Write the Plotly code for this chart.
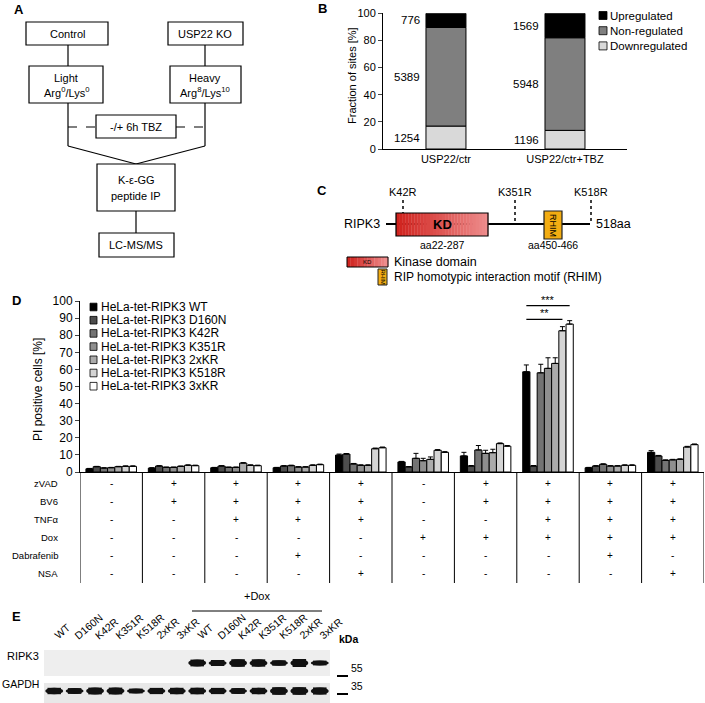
import plotly.graph_objects as go

W, H = 705, 703
FONT = "Arial, Liberation Sans, sans-serif"

def px(x):
    return x / W

def py(y):
    return 1 - y / H

# ---------------- DATA ----------------
# Panel B
b_categories = ["USP22/ctr", "USP22/ctr+TBZ"]
b_series = ["Upregulated", "Non-regulated", "Downregulated"]
b_up = [776, 1569]
b_non = [5389, 5948]
b_down = [1254, 1196]
b_colors = ["#000000", "#7f7f7f", "#d9d9d9"]

# Panel D
d_series = ["HeLa-tet-RIPK3 WT", "HeLa-tet-RIPK3 D160N", "HeLa-tet-RIPK3 K42R",
            "HeLa-tet-RIPK3 K351R", "HeLa-tet-RIPK3 2xKR", "HeLa-tet-RIPK3 K518R",
            "HeLa-tet-RIPK3 3xKR"]
d_colors = ["#000000", "#4d4d4d", "#737373", "#8f8f8f", "#ababab", "#d4d4d4", "#ffffff"]
wt =    [1.9, 2.3, 2.5, 2.5, 9.9, 5.9, 9.4, 58.6, 2.5, 11.5]
d160n = [3.1, 3.5, 3.5, 3.5, 10.5, 3.0, 3.5, 3.5, 3.5, 9.4]
k42r =  [2.3, 2.7, 2.7, 3.7, 4.7, 8.0, 12.9, 58.0, 4.5, 6.8]
k351r = [2.5, 2.7, 2.7, 2.9, 3.9, 6.6, 10.9, 60.6, 3.5, 7.1]
kr2 =   [3.1, 3.3, 5.2, 2.9, 3.9, 7.4, 11.3, 63.5, 3.5, 7.4]
k518r = [3.3, 3.9, 3.9, 3.9, 13.6, 12.7, 16.6, 82.6, 3.9, 14.6]
kr3 =   [3.3, 3.7, 3.7, 4.3, 14.2, 11.5, 15.1, 86.5, 3.9, 16.0]
wt_err =    [0.2, 0.2, 0.2, 0.2, 0.6, 0.3, 2.1, 4.0, 0.2, 1.0]
d160n_err = [0.2, 0.2, 0.2, 0.2, 0.3, 0.2, 0.3, 0.3, 0.2, 0.3]
k42r_err =  [0.2, 0.2, 0.2, 0.3, 0.3, 2.9, 2.6, 5.0, 0.3, 0.3]
k351r_err = [0.2, 0.2, 0.2, 0.2, 0.3, 1.4, 1.8, 6.2, 0.2, 0.3]
kr2_err =   [0.2, 0.2, 0.3, 0.2, 0.3, 1.4, 2.0, 3.3, 0.2, 0.3]
k518r_err = [0.3, 0.3, 0.3, 0.3, 0.4, 0.4, 0.4, 2.4, 0.3, 0.4]
kr3_err =   [0.3, 0.3, 0.3, 0.3, 0.4, 0.4, 0.4, 2.0, 0.3, 0.4]
d_values = [wt, d160n, k42r, k351r, kr2, k518r, kr3]
d_errors = [wt_err, d160n_err, k42r_err, k351r_err, kr2_err, k518r_err, kr3_err]

# treatment table
t_rows = ["zVAD", "BV6", "TNF\u03b1", "Dox", "Dabrafenib", "NSA"]
t_zvad = ["-", "+", "+", "+", "+", "-", "+", "+", "+", "+"]
t_bv6 =  ["-", "+", "+", "+", "+", "-", "+", "+", "+", "+"]
t_tnf =  ["-", "-", "+", "+", "+", "-", "-", "+", "+", "+"]
t_dox =  ["-", "-", "-", "-", "-", "+", "+", "+", "+", "+"]
t_dab =  ["-", "-", "-", "+", "-", "-", "-", "-", "+", "-"]
t_nsa =  ["-", "-", "-", "-", "+", "-", "-", "-", "-", "+"]
t_table = [t_zvad, t_bv6, t_tnf, t_dox, t_dab, t_nsa]

# significance: (group, series a, series b, label, height)
sig = [(7, 0, 6, "***", 97.3), (7, 0, 5, "**", 89.3)]

# Panel E blot
e_lanes = ["WT", "D160N", "K42R", "K351R", "K518R", "2xKR", "3xKR",
           "WT", "D160N", "K42R", "K351R", "K518R", "2xKR", "3xKR"]
e_ripk3 = [0, 0, 0, 0, 0, 0, 0, 0.85, 0.75, 0.95, 0.92, 0.68, 1.0, 0.6]
e_gapdh = [0.8, 0.72, 0.85, 0.85, 0.6, 0.78, 0.8, 0.82, 0.78, 0.72, 0.8, 0.95, 0.95, 0.9]

fig = go.Figure()

# ---------------- PANEL B ----------------
totals = [u + n + d for u, n, d in zip(b_up, b_non, b_down)]
pct_down = [100 * d / t for d, t in zip(b_down, totals)]
pct_non = [100 * n / t for n, t in zip(b_non, totals)]
pct_up = [100 * u / t for u, t in zip(b_up, totals)]
b_bw = 0.336
stack = [(b_down, pct_down, [0, 0], b_colors[2]),
         (b_non, pct_non, pct_down, b_colors[1]),
         (b_up, pct_up, [a + b for a, b in zip(pct_down, pct_non)], b_colors[0])]
annotations = []
for counts, vals, base, col in stack:
    fig.add_trace(go.Bar(x=[0, 1], y=vals, base=base, width=b_bw, offset=-b_bw / 2,
                         offsetgroup="b", marker=dict(color=col, line=dict(color="black", width=1)),
                         xaxis="x", yaxis="y", showlegend=False))
    for i in range(2):
        annotations.append(dict(x=i - b_bw / 2 - 0.03, y=base[i] + vals[i] / 2, xref="x", yref="y",
                                text=str(counts[i]), showarrow=False, xanchor="right",
                                font=dict(size=11.5, color="black")))

# ---------------- PANEL D ----------------
groups = list(range(10))
for j in range(7):
    fig.add_trace(go.Bar(x=groups, y=d_values[j], name=d_series[j],
                         marker=dict(color=d_colors[j], line=dict(color="black", width=1)),
                         error_y=dict(type="data", array=d_errors[j], arrayminus=[0] * 10,
                                      symmetric=False, color="black", thickness=1, width=2.5),
                         xaxis="x2", yaxis="y2", showlegend=False))

bargap = 0.19
bw = (1 - bargap) / 7

def bar_center(g, j):
    return g - (1 - bargap) / 2 + (j + 0.5) * bw

shapes = []
for g, a, b, lab, hgt in sig:
    x0, x1 = bar_center(g, a), bar_center(g, b)
    shapes.append(dict(type="line", xref="x2", yref="y2", x0=x0, x1=x1, y0=hgt, y1=hgt,
                       line=dict(color="black", width=1.2)))
    annotations.append(dict(x=(x0 + x1) / 2, y=hgt, xref="x2", yref="y2", text=lab,
                            showarrow=False, yanchor="bottom", font=dict(size=11, color="black"),
                            yshift=-2))

# D legend (manual, compact)
for j in range(7):
    yc = 307 + 13.2 * j
    shapes.append(dict(type="rect", xref="paper", yref="paper", x0=px(90), x1=px(97),
                       y0=py(yc + 3.8), y1=py(yc - 3.8), fillcolor=d_colors[j],
                       line=dict(color="black", width=0.8)))
    annotations.append(dict(x=px(99), y=py(yc), xref="paper", yref="paper", text=d_series[j],
                            showarrow=False, xanchor="left", yanchor="middle",
                            font=dict(size=12, color="black")))

# B legend
b_leg_order = [(b_series[0], b_colors[0]), (b_series[1], b_colors[1]), (b_series[2], b_colors[2])]
for k, (name, col) in enumerate(b_leg_order):
    yc = 15.5 + 15.2 * k
    shapes.append(dict(type="rect", xref="paper", yref="paper", x0=px(599), x1=px(607),
                       y0=py(yc + 4), y1=py(yc - 4), fillcolor=col,
                       line=dict(color="black", width=0.8)))
    annotations.append(dict(x=px(608), y=py(yc), xref="paper", yref="paper", text=name,
                            showarrow=False, xanchor="left", yanchor="middle",
                            font=dict(size=11.5, color="black")))

# table below D
tab_rows_y = [483, 501, 519, 537, 555, 573]
for r, (lab, vals) in enumerate(zip(t_rows, t_table)):
    annotations.append(dict(x=px(60), y=py(tab_rows_y[r]), xref="paper", yref="paper", text=lab,
                            showarrow=False, xanchor="right", yanchor="middle",
                            font=dict(size=9.5, color="black")))
    for g in groups:
        annotations.append(dict(x=g, y=py(tab_rows_y[r]), xref="x2", yref="paper", text=vals[g],
                                showarrow=False, xanchor="center", yanchor="middle",
                                font=dict(size=10, color="black")))
for k in range(11):
    shapes.append(dict(type="line", xref="x2", yref="paper", x0=k - 0.5, x1=k - 0.5,
                       y0=py(472), y1=py(583), line=dict(color="black", width=1)))

# ---------------- PANEL E ----------------
shapes.append(dict(type="rect", xref="paper", yref="paper", x0=px(44), x1=px(330),
                   y0=py(676), y1=py(650), fillcolor="#eeeeee", line=dict(width=0), layer="below"))
shapes.append(dict(type="rect", xref="paper", yref="paper", x0=px(44), x1=px(330),
                   y0=py(703), y1=py(683), fillcolor="#e8e8e8", line=dict(width=0), layer="below"))

def band(i, yc, inten, maxh):
    if inten <= 0:
        return
    h = maxh * inten
    shapes.append(dict(type="rect", xref="x3", yref="y3", x0=i - 0.33, x1=i + 0.33,
                       y0=yc - h / 2, y1=yc + h / 2, fillcolor="#111111", line=dict(width=0)))
    shapes.append(dict(type="circle", xref="x3", yref="y3", x0=i - 0.44, x1=i + 0.44,
                       y0=yc - h / 2, y1=yc + h / 2, fillcolor="#111111", line=dict(width=0)))

for i in range(14):
    band(i, 40, e_ripk3[i], 8)
    band(i, 12, e_gapdh[i], 8)
    annotations.append(dict(x=i - 0.25, y=py(644), xref="x3", yref="paper", text=e_lanes[i],
                            showarrow=False, textangle=-40, xanchor="left", yanchor="bottom",
                            font=dict(size=10.5, color="black")))

shapes.append(dict(type="line", xref="paper", yref="paper", x0=px(192), x1=px(322),
                   y0=py(611), y1=py(611), line=dict(color="black", width=1)))
annotations.append(dict(x=px(257), y=py(604), xref="paper", yref="paper", text="+Dox",
                        showarrow=False, font=dict(size=11, color="black")))
annotations += [
    dict(x=px(41), y=py(664), xref="paper", yref="paper", text="RIPK3", showarrow=False,
         xanchor="right", font=dict(size=11, color="black")),
    dict(x=px(41), y=py(692), xref="paper", yref="paper", text="GAPDH", showarrow=False,
         xanchor="right", font=dict(size=10.5, color="black")),
    dict(x=px(337), y=py(647), xref="paper", yref="paper", text="<b>kDa</b>", showarrow=False,
         xanchor="left", font=dict(size=10.5, color="black")),
    dict(x=px(349), y=py(676), xref="paper", yref="paper", text="55", showarrow=False,
         xanchor="left", font=dict(size=10.5, color="black")),
    dict(x=px(349), y=py(694), xref="paper", yref="paper", text="35", showarrow=False,
         xanchor="left", font=dict(size=10.5, color="black")),
]
for yy in (676, 694):
    shapes.append(dict(type="line", xref="paper", yref="paper", x0=px(337), x1=px(348),
                       y0=py(yy), y1=py(yy), line=dict(color="black", width=2)))

# ---------------- PANEL A ----------------
def box(x0, y0, x1, y1):
    shapes.append(dict(type="rect", xref="paper", yref="paper", x0=px(x0), x1=px(x1),
                       y0=py(y1), y1=py(y0), line=dict(color="black", width=1.2), fillcolor="white"))

def seg(x0, y0, x1, y1, dash="solid", w=1.2):
    shapes.append(dict(type="line", xref="paper", yref="paper", x0=px(x0), x1=px(x1),
                       y0=py(y0), y1=py(y1), line=dict(color="black", width=w, dash=dash)))

def txt(x, y, t, size=11, xa="center", bold=False, angle=0):
    annotations.append(dict(x=px(x), y=py(y), xref="paper", yref="paper",
                            text=("<b>%s</b>" % t) if bold else t, showarrow=False,
                            xanchor=xa, yanchor="middle", textangle=angle,
                            font=dict(size=size, color="black")))

seg(68, 45, 68, 66); seg(205, 45, 205, 66)
seg(68, 103, 68, 146); seg(205, 103, 205, 146)
seg(68, 146, 136, 164); seg(205, 146, 136, 164)
seg(68, 127, 96, 127, dash="dash"); seg(176, 127, 205, 127, dash="dash")
seg(136, 211, 136, 233)
box(26, 22, 108, 45); box(168, 22, 243, 45)
box(29, 66, 103, 103); box(170, 66, 241, 103)
box(96, 115, 176, 138)
box(97, 164, 175, 211)
box(99, 233, 174, 257)
txt(67, 34, "Control"); txt(205, 34, "USP22 KO")
txt(66, 78, "Light"); txt(66, 92, "Arg<sup>0</sup>/Lys<sup>0</sup>")
txt(205, 78, "Heavy"); txt(205, 92, "Arg<sup>8</sup>/Lys<sup>10</sup>")
txt(136, 127, "-/+ 6h TBZ")
txt(136, 180, "K-\u03b5-GG"); txt(136, 196, "peptide IP")
txt(136, 245, "LC-MS/MS")

# panel letters
for lx, ly, L in [(19, 10, "A"), (322, 9, "B"), (322, 190, "C"), (16, 300, "D"), (16, 616, "E")]:
    txt(lx, ly, L, size=13, bold=True)

# axis titles
txt(352, 76, "Fraction of sites [%]", size=11, angle=-90)
txt(38, 390, "PI positive cells [%]", size=12, angle=-90)

# ---------------- PANEL C ----------------
seg(386, 224, 590, 224, w=2)
for xx, y1, lab in [(403, 213, "K42R"), (515, 224, "K351R"), (591, 224, "K518R")]:
    seg(xx, 200, xx, y1, dash="dot", w=1.5)
    txt(xx, 192, lab, size=11)

def kd_box(x0, y0, x1, y1, n, lw):
    for k in range(n):
        f = k / (n - 1)
        r = int(208 + 30 * f); g = int(35 + 105 * f); b = int(30 + 110 * f)
        shapes.append(dict(type="rect", xref="paper", yref="paper",
                           x0=px(x0 + (x1 - x0) * k / n), x1=px(x0 + (x1 - x0) * (k + 1) / n + 0.3),
                           y0=py(y1), y1=py(y0), fillcolor="rgb(%d,%d,%d)" % (r, g, b),
                           line=dict(width=0)))
    shapes.append(dict(type="rect", xref="paper", yref="paper", x0=px(x0), x1=px(x1),
                       y0=py(y1), y1=py(y0), line=dict(color="black", width=lw)))

kd_box(396, 213, 488, 236, 30, 1.2)
txt(442, 225, "KD", size=13, bold=True)
shapes.append(dict(type="rect", xref="paper", yref="paper", x0=px(544), x1=px(562),
                   y0=py(239), y1=py(211), fillcolor="#f3ad12", line=dict(color="#222222", width=1.2)))
txt(553, 225, "RHIM", size=9, angle=90)
txt(382, 224, "RIPK3", size=12.5, xa="right")
txt(594, 224, "518aa", size=12.5, xa="left")
txt(442, 245, "aa22-287", size=10.5)
txt(553, 245, "aa450-466", size=10.5)
kd_box(347, 257, 388, 267, 12, 1)
txt(367, 262, "KD", size=6)
shapes.append(dict(type="rect", xref="paper", yref="paper", x0=px(378), x1=px(387),
                   y0=py(285), y1=py(269), fillcolor="#f3ad12", line=dict(color="#222222", width=1)))
txt(382.5, 277, "RHIM", size=6, angle=90)
txt(392, 262, "Kinase domain", size=12.5, xa="left")
txt(392, 277, "RIP homotypic interaction motif (RHIM)", size=12, xa="left")

# ---------------- LAYOUT ----------------
fig.update_layout(
    width=W, height=H, autosize=False,
    margin=dict(l=0, r=0, t=0, b=0, pad=0, autoexpand=False),
    paper_bgcolor="white", plot_bgcolor="rgba(0,0,0,0)",
    font=dict(family=FONT, color="black"),
    barmode="group", bargap=bargap, bargroupgap=0,
    showlegend=False, hovermode=False,
    xaxis=dict(domain=[px(383), px(627)], range=[-0.529, 1.521], tickvals=[0, 1],
               ticktext=b_categories, showline=True, linecolor="black", linewidth=1,
               ticks="", showgrid=False, zeroline=False, tickfont=dict(size=11),
               anchor="y", automargin=False),
    yaxis=dict(domain=[py(149), py(13.3)], range=[0, 100], dtick=20, showline=True,
               linecolor="black", linewidth=1, ticks="outside", ticklen=4, showgrid=False,
               zeroline=False, tickfont=dict(size=11), anchor="x", automargin=False),
    xaxis2=dict(domain=[px(80), px(704)], range=[-0.5, 9.5], showline=True, linecolor="black",
                linewidth=1, showticklabels=False, ticks="", showgrid=False, zeroline=False,
                anchor="y2", automargin=False),
    yaxis2=dict(domain=[py(472), py(301)], range=[0, 100], dtick=10, showline=True,
                linecolor="black", linewidth=1, ticks="outside", ticklen=4, showgrid=False,
                zeroline=False, tickfont=dict(size=12), anchor="x2", automargin=False),
    xaxis3=dict(domain=[px(44), px(330)], range=[-0.5, 13.5], visible=False, anchor="y3",
                automargin=False),
    yaxis3=dict(domain=[0, py(650)], range=[0, 53], visible=False, anchor="x3",
                automargin=False),
    shapes=shapes,
    annotations=annotations,
)

fig.write_html("out.html", config={"responsive": False, "displayModeBar": False},
               post_script="document.body.style.margin='0';document.body.style.overflow='hidden';")
